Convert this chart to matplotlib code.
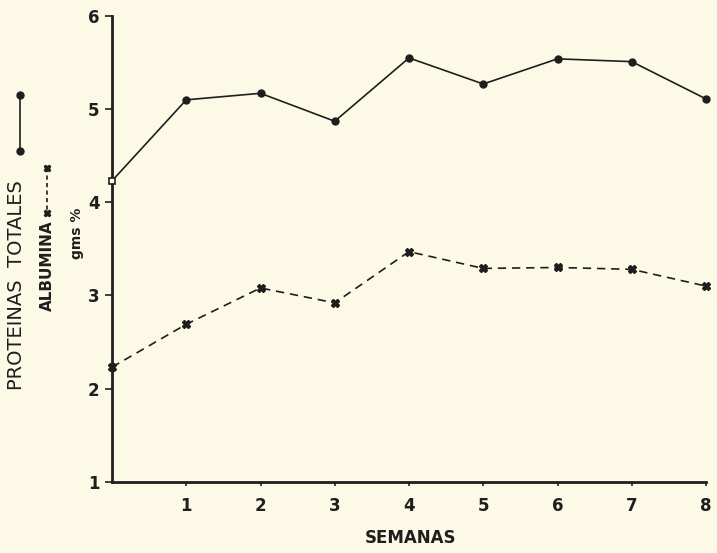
import matplotlib
matplotlib.use("Agg")
import matplotlib.pyplot as plt
from matplotlib.lines import Line2D

semanas = [0, 1, 2, 3, 4, 5, 6, 7, 8]
proteinas_totales = [4.23, 5.10, 5.17, 4.87, 5.55, 5.27, 5.54, 5.51, 5.11]
albumina = [2.23, 2.69, 3.08, 2.92, 3.47, 3.29, 3.30, 3.28, 3.10]
xtick_labels = ["1", "2", "3", "4", "5", "6", "7", "8"]
xtick_pos = [1, 2, 3, 4, 5, 6, 7, 8]
ytick_pos = [1, 2, 3, 4, 5, 6]

bg = "#fcfae6"
ink = "#1e1e1e"

fig = plt.figure(figsize=(7.17, 5.53), dpi=100, facecolor=bg)
ax = fig.add_axes([112/717, 1-481.7/553, 594/717, 465.7/553], facecolor=bg)

ax.plot(semanas[1:], proteinas_totales[1:], color=ink, lw=1.2, marker="o", ms=5,
        mfc=ink, mec=ink, clip_on=False, zorder=3)
ax.plot(semanas[:2], proteinas_totales[:2], color=ink, lw=1.2, clip_on=False, zorder=3)
ax.plot(semanas[:1], proteinas_totales[:1], ls="none", marker="s", ms=4, mfc=bg,
        mec=ink, mew=1.2, clip_on=False, zorder=4)
ax.plot(semanas, albumina, color=ink, lw=1.2, ls=(0, (5, 3.5)), marker="X", ms=6,
        mfc=ink, mec=ink, clip_on=False, zorder=3)

ax.set_xlim(0, 8)
ax.set_ylim(1, 6)
ax.set_xticks(xtick_pos)
ax.set_xticklabels(xtick_labels)
ax.set_yticks(ytick_pos)
ax.set_yticklabels([str(v) for v in ytick_pos])
for s in ["top", "right"]:
    ax.spines[s].set_visible(False)
for s in ["left", "bottom"]:
    ax.spines[s].set_linewidth(2)
    ax.spines[s].set_color(ink)
ax.tick_params(axis="x", direction="out", length=3, width=1.2, color=ink, pad=8,
               labelsize=12, labelcolor=ink)
ax.tick_params(axis="y", direction="out", length=5, width=1.2, color=ink, pad=4,
               labelsize=12, labelcolor=ink)
for lab in ax.get_xticklabels() + ax.get_yticklabels():
    lab.set_fontweight("bold")

fig.text(410/717, 1-538/553, "SEMANAS", ha="center", va="center",
         fontsize=12, fontweight="bold", color=ink)

fig.text(17/717, 1-285/553, "PROTEINAS  TOTALES", rotation=90, ha="center",
         va="center", fontsize=14, color=ink, fontweight="medium")
fig.text(47/717, 1-266/553, "ALBUMINA", rotation=90, ha="center", va="center",
         fontsize=11, fontweight="bold", color=ink)
fig.text(77/717, 1-233/553, "gms %", rotation=90, ha="center", va="center",
         fontsize=10, fontweight="bold", color=ink)

fig.add_artist(Line2D([20/717, 20/717], [1-95/553, 1-151/553], color=ink, lw=1.2,
                      marker="o", ms=5, mfc=ink, transform=fig.transFigure))
fig.add_artist(Line2D([47/717, 47/717], [1-168/553, 1-213/553], color=ink, lw=1.2,
                      ls=(0, (2.5, 2)), marker="X", ms=5, mfc=ink,
                      transform=fig.transFigure))

fig.savefig("out.png", dpi=100, facecolor=bg)
